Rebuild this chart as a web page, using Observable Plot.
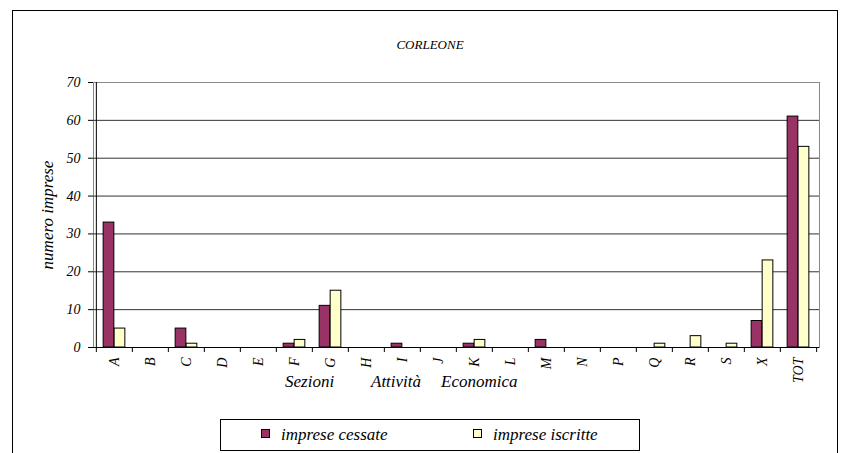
<!DOCTYPE html>
<html><head><meta charset="utf-8">
<script src="https://cdn.jsdelivr.net/npm/d3@7"></script>
<script src="https://cdn.jsdelivr.net/npm/@observablehq/plot@0.6"></script>
</head>
<body style="margin:0;padding:0;background:#fff">
<div id="wrap" style="position:relative;width:841px;height:453px;overflow:hidden;font-family:'Liberation Serif';font-style:italic;color:#000"></div>
<script>
const categories = ["A","B","C","D","E","F","G","H","I","J","K","L","M","N","P","Q","R","S","X","TOT"];
const cessate  = [33,0,5,0,0,1,11,0,1,0,1,0,2,0,0,0,0,0,7,61];
const iscritte = [5,0,1,0,0,2,15,0,0,0,2,0,0,0,0,1,3,1,23,53];
const series = ["imprese cessate","imprese iscritte"];
const colors = ["#993366","#FFFFCC"];
const yTicks = [0,10,20,30,40,50,60,70];
const titleText = "CORLEONE";
const yTitle = "numero imprese";
const xTitleParts = ["Sezioni","Attività","Economica"];

const data = categories.flatMap((c,i)=>[
  {cat:c, serie:series[0], v:cessate[i]},
  {cat:c, serie:series[1], v:iscritte[i]}
]);

const FONT = "Liberation Serif";
const W = 841, H = 453, mL = 93, mR = 22, mT = 82, mB = 106;
const step = (W - mL - mR) / categories.length;
const barW = 11;
const half = step / 2;

const wrap = document.getElementById("wrap");
function el(tag, css, text) {
  const e = document.createElement(tag);
  e.setAttribute("style", css);
  if (text != null) e.textContent = text;
  return e;
}

wrap.appendChild(el("div", "position:absolute;left:12px;top:10px;width:826px;height:460px;border:1px solid #000;box-sizing:border-box"));

const chart = Plot.plot({
  width: W, height: H,
  marginLeft: mL, marginRight: mR, marginTop: mT, marginBottom: mB,
  style: {fontFamily: FONT, fontStyle: "italic", background: "transparent", color: "#000", position: "absolute", left: "0px", top: "0px"},
  x: {domain: categories, padding: 0, label: null, axis: null},
  y: {domain: [0, 70], label: null, axis: null},
  color: {domain: series, range: colors},
  marks: [
    Plot.frame({stroke: "#8a8a8a"}),
    Plot.ruleY(yTicks.slice(1, -1), {stroke: "#333"}),
    Plot.barY(data.filter(d => d.serie === series[0]), {x: "cat", y: "v", fill: "serie", stroke: "#000", strokeWidth: 1, insetLeft: half - barW, insetRight: half}),
    Plot.barY(data.filter(d => d.serie === series[1]), {x: "cat", y: "v", fill: "serie", stroke: "#000", strokeWidth: 1, insetLeft: half, insetRight: half - barW}),
    Plot.ruleY([0], {stroke: "#000"}),
    Plot.ruleX([categories[0]], {dx: -half, stroke: "#000"}),
    Plot.axisY(yTicks, {tickSize: 5, tickPadding: 8, fontSize: 14, label: null, stroke: "#000", fontFamily: FONT, fontStyle: "italic"}),
    Plot.axisX(categories, {tickSize: 5, dx: -half, text: null, label: null, stroke: "#000"}),
    Plot.axisX([categories[categories.length - 1]], {tickSize: 5, dx: half, text: null, label: null, stroke: "#000"}),
    Plot.axisX(categories, {tickSize: 0, tickPadding: 10, tickRotate: -90, fontSize: 14, label: null, fontFamily: FONT, fontStyle: "italic"})
  ]
});
wrap.appendChild(chart);

const T = "position:absolute;white-space:nowrap;line-height:1;font-family:'Liberation Serif';font-style:italic;";
wrap.appendChild(el("div", T + "left:0;width:860px;text-align:center;top:38px;font-size:13px", titleText));
wrap.appendChild(el("div", T + "left:47px;top:215px;font-size:17px;transform:translate(-50%,-50%) rotate(-90deg)", yTitle));

const xPos = [285, 371, 441];
xTitleParts.forEach((p, i) => {
  wrap.appendChild(el("div", T + "left:" + xPos[i] + "px;top:373px;font-size:17px", p));
});

const lg = el("div", "position:absolute;left:220px;top:419px;width:420px;height:32px;border:1px solid #000;box-sizing:border-box");
wrap.appendChild(lg);
const lgPos = [{sx: 40, tx: 60}, {sx: 252, tx: 272}];
series.forEach((s, i) => {
  lg.appendChild(el("div", "position:absolute;left:" + lgPos[i].sx + "px;top:9px;width:9px;height:9px;border:1px solid #000;box-sizing:border-box;background:" + colors[i]));
  lg.appendChild(el("div", T + "left:" + lgPos[i].tx + "px;top:6px;font-size:17px", s));
});
</script>
</body></html>
